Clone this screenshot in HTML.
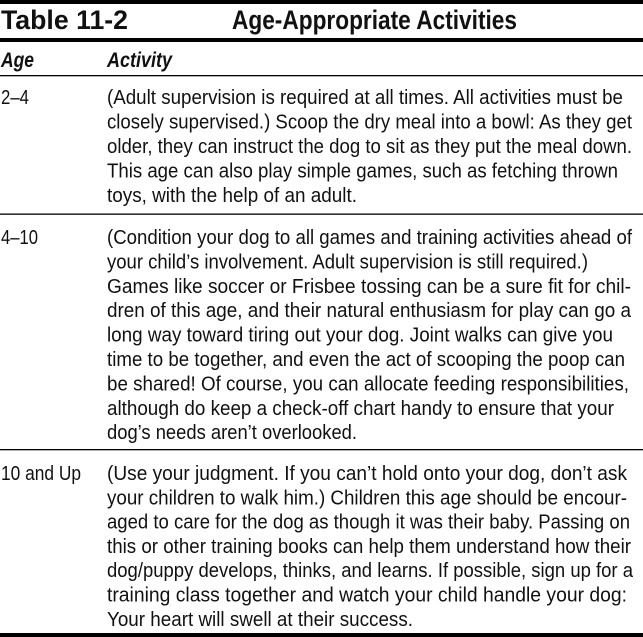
<!DOCTYPE html>
<html><head><meta charset="utf-8"><style>
html,body{margin:0;padding:0;background:#fff;}
svg{display:block;}
text{font-family:"Liberation Sans Narrow","Liberation Sans",sans-serif;fill:#111;}
.b{font-size:20px;}
</style></head><body>
<svg width="643" height="637" viewBox="0 0 643 637" xmlns="http://www.w3.org/2000/svg">
<rect x="0" y="0" width="643" height="4" fill="#000"/>
<text x="1" y="29" font-size="27" font-weight="bold" textLength="127" lengthAdjust="spacingAndGlyphs">Table 11-2</text>
<text x="232" y="29" font-size="27" font-weight="bold" textLength="285" lengthAdjust="spacingAndGlyphs">Age-Appropriate Activities</text>
<rect x="0" y="38" width="643" height="4" fill="#000"/>
<text x="1" y="67" font-size="21" font-weight="bold" font-style="italic" textLength="33" lengthAdjust="spacingAndGlyphs">Age</text>
<text x="107" y="67" font-size="21" font-weight="bold" font-style="italic" textLength="65" lengthAdjust="spacingAndGlyphs">Activity</text>
<rect x="0" y="75" width="643" height="1.3" fill="#000"/>

<g class="b">
<text x="1" y="104" textLength="28" lengthAdjust="spacingAndGlyphs">2–4</text>
<text x="107" y="104" textLength="516" lengthAdjust="spacingAndGlyphs">(Adult supervision is required at all times. All activities must be</text>
<text x="107" y="128.5" textLength="525" lengthAdjust="spacingAndGlyphs">closely supervised.) Scoop the dry meal into a bowl: As they get</text>
<text x="107" y="153" textLength="525" lengthAdjust="spacingAndGlyphs">older, they can instruct the dog to sit as they put the meal down.</text>
<text x="107" y="177.5" textLength="511" lengthAdjust="spacingAndGlyphs">This age can also play simple games, such as fetching thrown</text>
<text x="107" y="202" textLength="250" lengthAdjust="spacingAndGlyphs">toys, with the help of an adult.</text>
</g>
<rect x="0" y="213.5" width="643" height="1.3" fill="#000"/>

<g class="b">
<text x="1" y="244" textLength="37" lengthAdjust="spacingAndGlyphs">4–10</text>
<text x="107" y="244" textLength="525" lengthAdjust="spacingAndGlyphs">(Condition your dog to all games and training activities ahead of</text>
<text x="107" y="268.4" textLength="481" lengthAdjust="spacingAndGlyphs">your child’s involvement. Adult supervision is still required.)</text>
<text x="107" y="292.8" textLength="524" lengthAdjust="spacingAndGlyphs">Games like soccer or Frisbee tossing can be a sure fit for chil-</text>
<text x="107" y="317.2" textLength="524" lengthAdjust="spacingAndGlyphs">dren of this age, and their natural enthusiasm for play can go a</text>
<text x="107" y="341.6" textLength="506" lengthAdjust="spacingAndGlyphs">long way toward tiring out your dog. Joint walks can give you</text>
<text x="107" y="366" textLength="518" lengthAdjust="spacingAndGlyphs">time to be together, and even the act of scooping the poop can</text>
<text x="107" y="390.4" textLength="522" lengthAdjust="spacingAndGlyphs">be shared! Of course, you can allocate feeding responsibilities,</text>
<text x="107" y="414.8" textLength="507" lengthAdjust="spacingAndGlyphs">although do keep a check-off chart handy to ensure that your</text>
<text x="107" y="439.2" textLength="250" lengthAdjust="spacingAndGlyphs">dog’s needs aren’t overlooked.</text>
</g>
<rect x="0" y="449" width="643" height="1.3" fill="#000"/>

<g class="b">
<text x="1" y="480" textLength="80" lengthAdjust="spacingAndGlyphs">10 and Up</text>
<text x="107" y="480" textLength="520" lengthAdjust="spacingAndGlyphs">(Use your judgment. If you can’t hold onto your dog, don’t ask</text>
<text x="107" y="504.3" textLength="520" lengthAdjust="spacingAndGlyphs">your children to walk him.) Children this age should be encour-</text>
<text x="107" y="528.6" textLength="523" lengthAdjust="spacingAndGlyphs">aged to care for the dog as though it was their baby. Passing on</text>
<text x="107" y="552.9" textLength="524" lengthAdjust="spacingAndGlyphs">this or other training books can help them understand how their</text>
<text x="107" y="577.2" textLength="526" lengthAdjust="spacingAndGlyphs">dog/puppy develops, thinks, and learns. If possible, sign up for a</text>
<text x="107" y="601.5" textLength="520" lengthAdjust="spacingAndGlyphs">training class together and watch your child handle your dog:</text>
<text x="107" y="625.8" textLength="306" lengthAdjust="spacingAndGlyphs">Your heart will swell at their success.</text>
</g>
<rect x="0" y="633" width="643" height="4" fill="#000"/>
</svg>
</body></html>
